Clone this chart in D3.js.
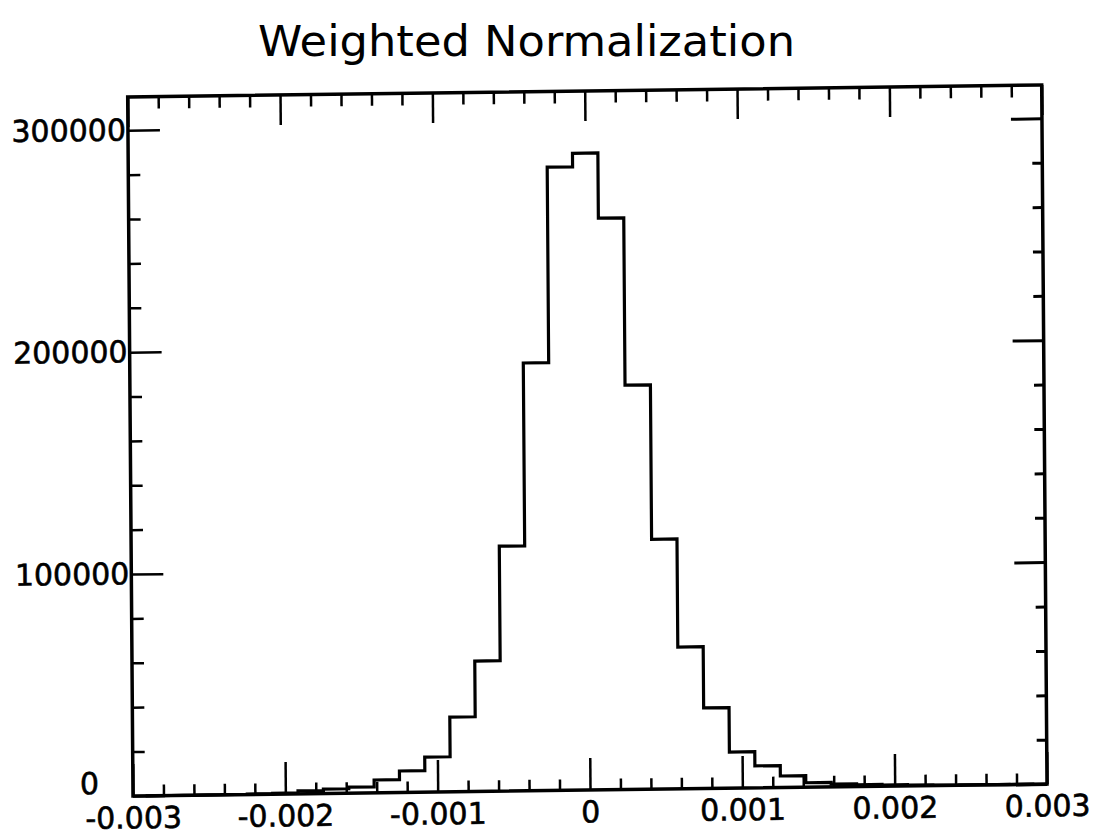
<!DOCTYPE html>
<html>
<head>
<meta charset="utf-8">
<script src="https://cdn.jsdelivr.net/npm/d3@7"></script>
<style>
  html, body { margin: 0; padding: 0; background: #fff; }
  svg { display: block; }
</style>
</head>
<body>
<div id="chart"></div>
<script>
// histogram definition (35 bins centred on multiples of binWidth)
var binLo = -0.0029167,
    binWidth = 0.00016667;
var counts = [0, 0, 50, 100, 200, 400, 1300, 2000, 2700, 5800, 9700, 15800,
              33700, 58800, 110400, 192800, 280900, 287000, 257600, 182200,
              112600, 63900, 36300, 16300, 9900, 5200, 2000, 1200, 800, 500,
              300, 200, 100, 50, 0];

var xMajor = [-0.003, -0.002, -0.001, 0, 0.001, 0.002, 0.003],
    xMinor = [-0.0028, -0.0026, -0.0024, -0.0022, -0.0018, -0.0016, -0.0014, -0.0012,
              -0.0008, -0.0006, -0.0004, -0.0002, 0.0002, 0.0004, 0.0006, 0.0008,
              0.0012, 0.0014, 0.0016, 0.0018, 0.0022, 0.0024, 0.0026, 0.0028],
    yMajor = [0, 100000, 200000, 300000],
    yMinor = [20000, 40000, 60000, 80000, 120000, 140000, 160000, 180000,
              220000, 240000, 260000, 280000];

var title = 'Weighted Normalization';

var width = 1096,
    height = 835,
    W = 914,
    H = 699;

var svg = d3.select('#chart')
    .append('svg')
    .attr('width', width)
    .attr('height', height)
    .style('font-family', '"DejaVu Sans", sans-serif');

svg.append('text')
    .attr('x', 258)
    .attr('y', 56)
    .attr('textLength', 537)
    .attr('lengthAdjust', 'spacingAndGlyphs')
    .style('font-size', '42px')
    .text(title);

// the scanned plot is slightly skewed
var g = svg.append('g')
    .attr('transform', 'matrix(1,-0.0131,0.0076,1,127.7,97)');

var x = d3.scaleLinear().domain([-0.003, 0.003]).range([0, W]),
    y = d3.scaleLinear().domain([0, 315000]).range([H, 0]);

function fmtX(d) { return d === 0 ? '0' : d.toFixed(3); }

function styleAxis(sel, sw) {
    sel.select('.domain').remove();
    sel.selectAll('.tick line').attr('stroke-width', sw);
    sel.selectAll('.tick text')
        .style('font-family', '"DejaVu Sans", sans-serif')
        .style('font-size', '30px')
        .attr('fill', '#000')
        .attr('stroke', '#000')
        .attr('stroke-width', 0.6);
}

// major ticks
g.append('g')
    .attr('transform', 'translate(0,' + H + ')')
    .call(d3.axisBottom(x).tickValues(xMajor).tickSize(-32).tickPadding(11).tickFormat(fmtX))
    .call(styleAxis, 2.5);
g.append('g')
    .call(d3.axisTop(x).tickValues(xMajor).tickSize(-30).tickFormat(''))
    .call(styleAxis, 2.5);
var yAx = g.append('g')
    .call(d3.axisLeft(y).tickValues(yMajor).tickSize(-32).tickPadding(2).tickFormat(d3.format('d')))
    .call(styleAxis, 2.5);
g.append('g')
    .attr('transform', 'translate(' + W + ',0)')
    .call(d3.axisRight(y).tickValues(yMajor).tickSize(-31).tickFormat(''))
    .call(styleAxis, 3);

// zero label sits left, away from the x label
yAx.selectAll('.tick text')
    .filter(function (d) { return d === 0; })
    .attr('x', -34)
    .attr('dy', '-0.1em');

// minor ticks
g.append('g')
    .attr('transform', 'translate(0,' + H + ')')
    .call(d3.axisBottom(x).tickValues(xMinor).tickSize(-11).tickFormat(''))
    .call(styleAxis, 2.5);
g.append('g')
    .call(d3.axisTop(x).tickValues(xMinor).tickSize(-12).tickFormat(''))
    .call(styleAxis, 2.5);
g.append('g')
    .call(d3.axisLeft(y).tickValues(yMinor).tickSize(-12).tickFormat(''))
    .call(styleAxis, 2.5);
g.append('g')
    .attr('transform', 'translate(' + W + ',0)')
    .call(d3.axisRight(y).tickValues(yMinor).tickSize(-10).tickFormat(''))
    .call(styleAxis, 3);

// frame
g.append('rect')
    .attr('x', 0)
    .attr('y', 0)
    .attr('width', W)
    .attr('height', H)
    .attr('fill', 'none')
    .attr('stroke', '#000')
    .attr('stroke-width', 3.5);

// histogram outline
var pts = [[binLo, 0]];
counts.forEach(function (c, i) {
    pts.push([binLo + i * binWidth, c]);
});
pts.push([binLo + counts.length * binWidth, counts[counts.length - 1]]);
pts.push([binLo + counts.length * binWidth, 0]);

var line = d3.line()
    .x(function (d) { return x(d[0]); })
    .y(function (d) { return y(d[1]); })
    .curve(d3.curveStepAfter);

g.append('path')
    .datum(pts)
    .attr('d', line)
    .attr('fill', 'none')
    .attr('stroke', '#000')
    .attr('stroke-width', 3.2)
    .attr('stroke-linejoin', 'miter');
</script>
</body>
</html>
